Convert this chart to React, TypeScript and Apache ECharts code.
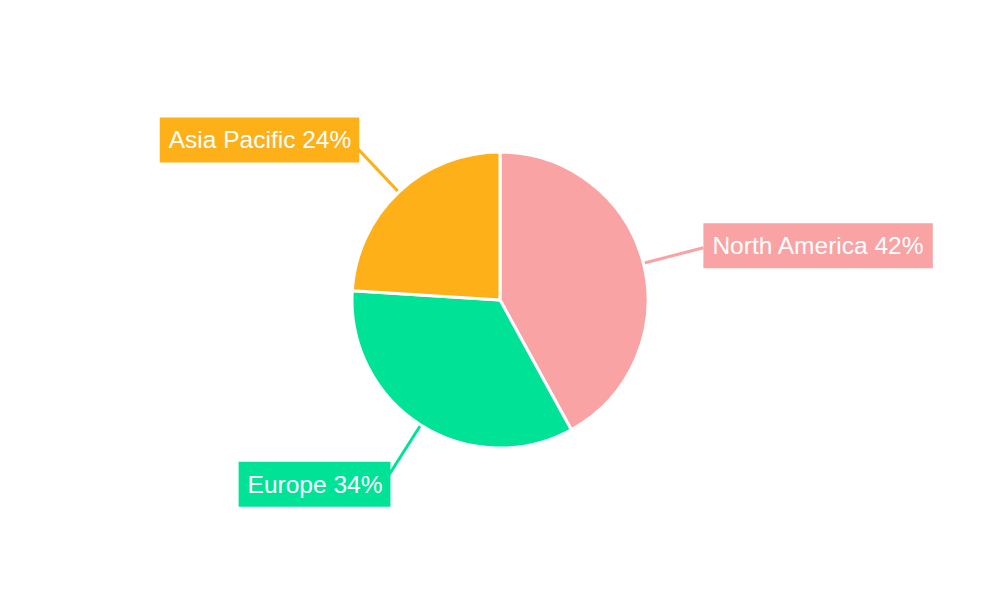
import React, { useEffect, useRef } from "react";
import * as echarts from "echarts";

const categories = ["North America", "Europe", "Asia Pacific"];
const values = [42, 34, 24];
const colors = ["#F9A3A4", "#00E396", "#FEB019"];
const labelShiftX = [0, 3, 3];
const labelShiftY = [-2, 7, -7];

export default function App() {
  const ref = useRef<HTMLDivElement>(null);
  useEffect(() => {
    if (!ref.current) return;
    const chart = echarts.init(ref.current, null, { renderer: "svg" });
    chart.setOption({
      animation: false,
      series: [
        {
          type: "pie",
          center: ["50%", "50%"],
          radius: 148,
          startAngle: 90,
          clockwise: true,
          avoidLabelOverlap: false,
          itemStyle: { borderColor: "#ffffff", borderWidth: 3 },
          label: {
            show: true,
            position: "outside",
            formatter: "{b} {c}%",
            color: "#ffffff",
            fontSize: 24.5,
            fontFamily: "Liberation Sans, Arial, sans-serif",
            padding: [10, 8, 10, 9],
            distanceToLabelLine: 0,
          },
          labelLine: { show: true, length: 62, length2: 0, lineStyle: { width: 3 } },
          labelLayout: (p: any) => ({ dx: labelShiftX[p.dataIndex], dy: labelShiftY[p.dataIndex] }),
          data: categories.map((name, i) => ({
            name,
            value: values[i],
            itemStyle: { color: colors[i] },
            label: { backgroundColor: colors[i] },
            labelLine: { lineStyle: { color: colors[i] } },
          })),
        },
      ],
    });
    return () => chart.dispose();
  }, []);
  return <div ref={ref} style={{ width: 1000, height: 600, margin: -8 }} />;
}
